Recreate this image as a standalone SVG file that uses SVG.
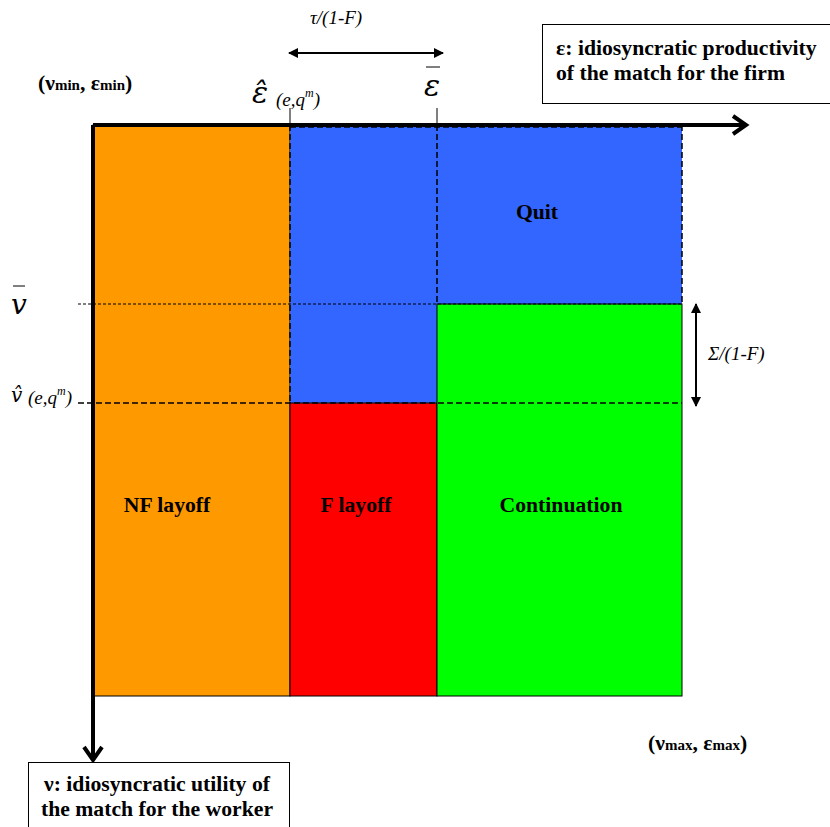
<svg xmlns="http://www.w3.org/2000/svg" width="830" height="827" viewBox="0 0 830 827">
<style>
.lbl{font-family:"Liberation Serif",serif;font-weight:bold;font-size:21.7px;fill:#000}
.box{font-family:"Liberation Serif",serif;font-weight:bold;font-size:21.7px;fill:#000}
.it{font-family:"Liberation Serif",serif;font-style:italic;fill:#000}
.math{font-family:"DejaVu Serif","Liberation Serif",serif;font-style:italic;fill:#000}
.dash{stroke:#000;stroke-width:1.5;stroke-dasharray:6 3;fill:none}
.thin{stroke:#000;stroke-width:1;fill:none}
</style>
<defs>
<marker id="ah" viewBox="0 0 10 10" refX="9" refY="5" markerWidth="10" markerHeight="10" markerUnits="userSpaceOnUse" orient="auto-start-reverse">
<path d="M0,0 L10,5 L0,10 Z" fill="#000"/>
</marker>
</defs>
<rect width="830" height="827" fill="#fff"/>
<g id="regions">
<g id="nf-layoff"><rect x="93" y="125" width="197" height="571" fill="#FF9900" stroke="#000" stroke-width="1"/><text class="lbl" x="167" y="512" text-anchor="middle">NF layoff</text></g>
<g id="quit"><path d="M290,125 H682 V304 H437 V403 H290 Z" fill="#3366FF"/><text class="lbl" x="537" y="219" text-anchor="middle">Quit</text></g>
<g id="f-layoff"><rect x="290" y="403" width="147" height="293" fill="#FF0000" stroke="#000" stroke-width="1"/><text class="lbl" x="356" y="512" text-anchor="middle">F layoff</text></g>
<g id="continuation"><rect x="437" y="304" width="245" height="392" fill="#00FF00" stroke="#000" stroke-width="1"/><text class="lbl" x="561" y="512" text-anchor="middle">Continuation</text></g>
</g>
<g id="connectors">
<line x1="290" y1="125" x2="290" y2="403" class="dash"/>
<line x1="437" y1="125" x2="437" y2="304" class="dash"/>
<line x1="682" y1="125" x2="682" y2="304" class="dash" stroke-width="2"/>
<line x1="290" y1="127" x2="682" y2="127" class="dash" stroke-width="2" stroke-dasharray="4 3"/>
<line x1="78" y1="304" x2="682" y2="304" stroke="#000" stroke-width="1" stroke-dasharray="3 2"/>
<line x1="78" y1="403" x2="682" y2="403" class="dash"/>
<line x1="290" y1="108" x2="290" y2="125" class="thin"/>
<line x1="437" y1="108" x2="437" y2="125" class="thin"/>
<line x1="93" y1="125" x2="745" y2="125" stroke="#000" stroke-width="4"/>
<path d="M733,116 L746,125 L733,134" fill="none" stroke="#000" stroke-width="4"/>
<line x1="93" y1="125" x2="93" y2="759" stroke="#000" stroke-width="4"/>
<path d="M84,747 L93,760 L102,747" fill="none" stroke="#000" stroke-width="4"/>
<line x1="289" y1="53" x2="443" y2="53" stroke="#000" stroke-width="2" marker-start="url(#ah)" marker-end="url(#ah)"/>
<line x1="696" y1="304" x2="696" y2="406" stroke="#000" stroke-width="2" marker-start="url(#ah)" marker-end="url(#ah)"/>
</g>
<g id="tau-label"><text class="it" x="310" y="24" font-size="19">τ/(1-F)</text></g>
<g id="sigma-label"><text class="it" x="708" y="360" font-size="19">Σ/(1-F)</text></g>
<g id="eps-hat"><text class="math" x="252" y="103" font-size="30">ε̂</text><text class="it" x="276" y="106" font-size="19">(e,q<tspan font-size="12" dy="-9">m</tspan><tspan dy="9">)</tspan></text></g>
<g id="eps-bar"><text class="math" x="424" y="96" font-size="30">ε</text><line x1="426" y1="67" x2="440" y2="67" stroke="#000" stroke-width="1"/></g>
<g id="v-bar"><text class="math" x="11" y="314" font-size="28">v</text><line x1="13" y1="286" x2="25" y2="286" stroke="#000" stroke-width="1"/></g>
<g id="v-hat"><text class="math" x="11" y="402" font-size="20">v̂</text><text class="it" x="28" y="404" font-size="19">(e,q<tspan font-size="12" dy="-9">m</tspan><tspan dy="9">)</tspan></text></g>
<g id="min-label"><text class="box" x="38" y="90" font-size="22">(ν<tspan font-size="15">min</tspan>, ε<tspan font-size="15">min</tspan>)</text></g>
<g id="max-label"><text class="box" x="648" y="750" font-size="22">(ν<tspan font-size="15">max</tspan>, ε<tspan font-size="15">max</tspan>)</text></g>
<g id="eps-box"><rect x="542.5" y="24.5" width="290" height="79" fill="#fff" stroke="#000" stroke-width="1"/><text class="box" x="556" y="55">ε: idiosyncratic productivity</text><text class="box" x="556" y="80">of the match for the firm</text></g>
<g id="nu-box"><rect x="28.5" y="762.5" width="261" height="70" fill="#fff" stroke="#000" stroke-width="1"/><text class="box" x="157" y="791" text-anchor="middle">ν: idiosyncratic utility of</text><text class="box" x="157" y="816" text-anchor="middle">the match for the worker</text></g>
</svg>
